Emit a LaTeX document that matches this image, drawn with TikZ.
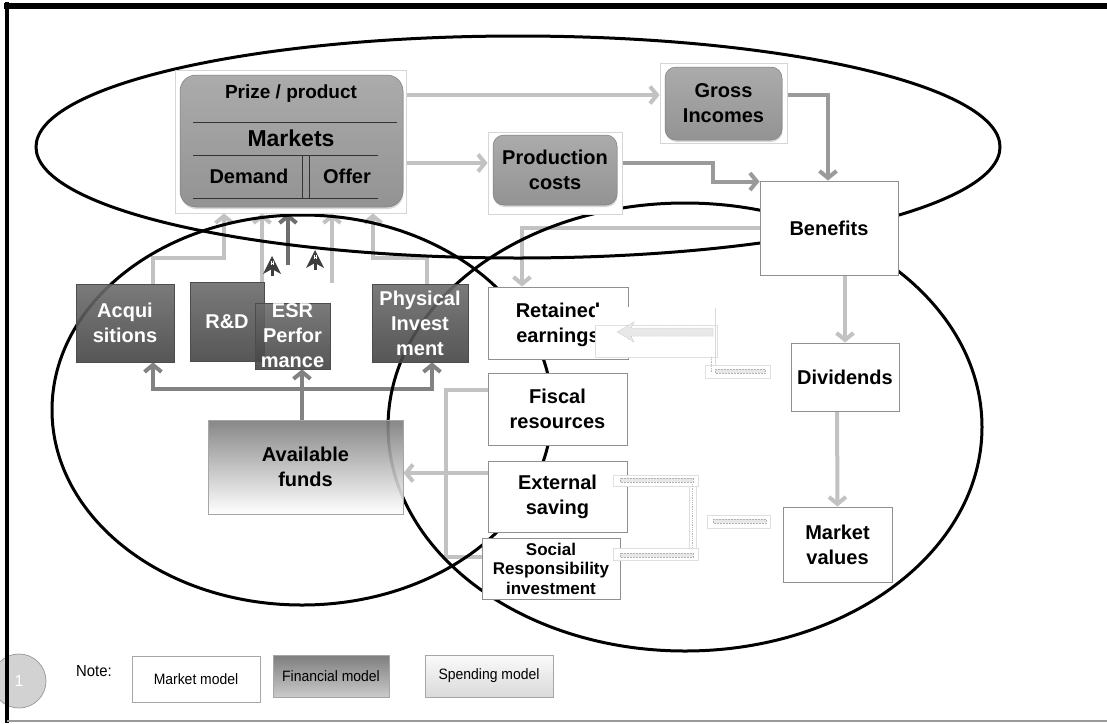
\documentclass[tikz,border=0pt]{standalone}
\usepackage{fontspec}
\setmainfont{Liberation Sans}
\newfontfamily\notefont[FakeStretch=0.93]{Liberation Sans}
\usetikzlibrary{arrows.meta,shadows}

\definecolor{mktop}{HTML}{ABABAB}
\definecolor{mkbot}{HTML}{939393}
\definecolor{fintop}{HTML}{6C6C6C}
\definecolor{finbot}{HTML}{444444}
\definecolor{fundtop}{HTML}{7A7A7A}
\definecolor{legfintop}{HTML}{7E7E7E}
\definecolor{legfinbot}{HTML}{CACACA}
\definecolor{legsptop}{HTML}{FAFAFA}
\definecolor{legspbot}{HTML}{DADADA}
\definecolor{arrlight}{HTML}{C2C2C2}
\definecolor{arrmid}{HTML}{9A9A9A}
\definecolor{arrfin}{HTML}{828282}
\definecolor{arrdark}{HTML}{6E6E6E}
\definecolor{arrstray}{HTML}{3E3E3E}
\definecolor{edge}{HTML}{8F8F8F}
\definecolor{framegray}{HTML}{D6D6D6}

\pgfdeclarelayer{flows}
\pgfdeclarelayer{rings}
\pgfsetlayers{flows,rings,main}

\tikzset{
  headmark/.pic={
    \fill[arrstray] (0,-10) -- (9,8) -- (0,3) -- (-9,8) -- cycle;
    \draw[arrstray, line width=3pt] (0,-2) -- (0,10);
    \draw[white, line width=0.6pt] (-1.2,-5) -- (-1.2,-1) (1.2,-5) -- (1.2,-1) (-1.2,-3) -- (1.2,-3);
  }
}

\begin{document}
\begin{tikzpicture}[x=1pt,y=-1pt,
  txt/.style={font=\fontsize{20}{25}\selectfont\bfseries, align=center, inner sep=0pt},
  plainbox/.style={txt, draw=edge, fill=white, line width=0.9pt},
  finbox/.style={txt, text=white, draw=black!70, line width=0.6pt,
    top color=fintop, bottom color=finbot, fill opacity=0.9, text opacity=1},
  fundbox/.style={txt, draw=gray!70, line width=0.8pt,
    top color=fundtop, bottom color=white, fill opacity=0.9, text opacity=1},
  gbox/.style={txt, rounded corners=11pt, top color=mktop, bottom color=mkbot,
    draw=mkbot!85!black, line width=0.5pt,
    drop shadow={shadow xshift=0.5pt, shadow yshift=-2pt, opacity=0.3}},
  picframe/.style={draw=framegray, fill=white, line width=0.8pt, inner sep=0pt},
  rule/.style={draw=black!80, line width=0.9pt},
  ring/.style={draw=black, line width=3pt},
  tip/.style={-{Straight Barb[length=7pt,width=17pt]}},
  lightarr/.style={draw=arrlight, line width=4pt, tip},
  lightline/.style={draw=arrlight, line width=3.5pt},
  midarr/.style={draw=arrmid, line width=4pt, tip},
  finarr/.style={draw=arrfin, line width=4pt, tip},
  darkarr/.style={draw=arrdark, line width=4pt, tip},
  legbox/.style={inner sep=0pt, draw=gray!70, line width=0.8pt,
    font=\notefont\fontsize{15}{18}\selectfont},
  numdisc/.style={circle, draw=gray!75, fill=gray!35, line width=0.8pt,
    minimum size=54pt, inner sep=0pt, text=white, font=\fontsize{16}{16}\selectfont},
  ghost/.style={fill=white, draw=gray!25, line width=0.6pt},
  hatch/.style={fill=gray!18, draw=gray!60, densely dotted, line width=0.5pt}
]
\useasboundingbox (0,0) rectangle (1107,723);

% ---------- legend disc (sits under the page border) ----------
\node[numdisc] (num) at (19,681) {1};

% ---------- page border ----------
\draw[line width=4pt] (7,2) -- (7,723);
\draw[line width=6pt] (4,6) -- (1107,6);
\draw[gray!80, line width=1.5pt] (7,721) -- (1107,721);

% ---------- the three model rings ----------
\begin{pgfonlayer}{rings}
  \draw[ring] (518,147) ellipse [x radius=482pt, y radius=111pt];
  \draw[ring] (302,410) ellipse [x radius=250pt, y radius=195pt];
  \draw[ring] (685,427) ellipse [x radius=297pt, y radius=224pt];
\end{pgfonlayer}

% ---------- market block ----------
\node[picframe, minimum width=231pt, minimum height=143pt] (mframe) at (290.5,141.5) {};
\node[gbox, rounded corners=16pt, minimum width=223pt, minimum height=132pt] (mk) at (291.5,141) {};
\node[txt, font=\fontsize{19}{19}\selectfont\bfseries] (prize) at (291,94) {Prize / product};
\node[txt, font=\fontsize{23}{23}\selectfont\bfseries] (mkts) at (291,138) {Markets};
\node[txt] (dem) at (249,176) {Demand};
\node[txt] (off) at (347,176) {Offer};
\draw[rule] (193,122) -- (397,122);
\draw[rule] (193,155) -- (378,155);
\draw[rule] (193,198) -- (378,198);
\draw[rule] (302,155) -- (302,198);
\draw[rule] (309,155) -- (309,198);

\node[picframe, minimum width=127pt, minimum height=80pt] (gframe) at (723.5,103) {};
\node[gbox, minimum width=117pt, minimum height=73pt] (gross) at (723.5,103.5) {Gross\\Incomes};
\node[picframe, minimum width=134pt, minimum height=82pt] (pframe) at (555,173) {};
\node[gbox, minimum width=124pt, minimum height=70pt] (prod) at (555,170) {Production\\costs};

% ---------- spending / result boxes ----------
\node[plainbox, minimum width=138pt, minimum height=94pt] (ben) at (829,228) {Benefits};
\node[plainbox, minimum width=108pt, minimum height=68pt] (div) at (845,377) {Dividends};
\node[plainbox, minimum width=109pt, minimum height=75pt] (mv) at (837.5,544.5) {Market\\values};
\node[plainbox, minimum width=140pt, minimum height=72pt, text depth=0pt] (ret) at (558,323) {Retained\\earnings};
\node[plainbox, minimum width=139pt, minimum height=72pt] (fis) at (557.5,409) {Fiscal\\resources};
\node[plainbox, minimum width=139pt, minimum height=71pt] (ext) at (557.5,496.5) {External\\saving};
\node[plainbox, minimum width=138pt, minimum height=61pt,
  font=\fontsize{17}{19.5}\selectfont\bfseries] (soc) at (551,568.5) {Social\\Responsibility\\investment};

% ---------- financial boxes ----------
\node[finbox, minimum width=98pt, minimum height=78pt] (acq) at (125,323) {Acqui\\sitions};
\node[finbox, minimum width=74pt, minimum height=79pt] (rd) at (227,321.5) {R\&D};
\node[finbox, minimum width=75pt, minimum height=66pt] (esr) at (292.5,336) {ESR\\Perfor\\mance};
\node[finbox, minimum width=96pt, minimum height=78pt] (phys) at (420,323) {Physical\\Invest\\ment};
\node[fundbox, minimum width=195pt, minimum height=94pt] (avail) at (305.5,467) {Available\\funds};

% ---------- flows ----------
\begin{pgfonlayer}{flows}
  % market to incomes and costs
  \draw[lightarr] ([yshift=8pt]gframe.west -| mframe.east) -- ([yshift=8pt]gframe.west);
  \draw[lightarr] ([yshift=10pt]pframe.west -| mframe.east) -- ([yshift=10pt]pframe.west);
  \draw[midarr] ([yshift=8pt]gframe.east) -| ([xshift=-1pt]ben.north);
  \draw[midarr] ([yshift=10pt]pframe.east) -- ++(91,0) |- ([yshift=-1pt]ben.north west);
  % benefits distribution
  \draw[lightarr] (ben.west) -| ([xshift=-36pt]ret.north);
  \draw[lightarr] ([xshift=16pt]ben.south) -- (div.north);
  \draw[lightarr] ([xshift=-8pt]div.south) -- (mv.north);
  % spending sources to available funds
  \coordinate (bus) at (446,473);
  \draw[lightline] ([yshift=19pt]fis.west) -| (bus) |- ([yshift=11.5pt]soc.west);
  \draw[lightarr] ([yshift=23.5pt]ext.west) -- ([yshift=-6pt]avail.east);
  % financial decisions feeding the market
  \draw[lightarr] ([xshift=28pt]acq.north) -- ++(0,-26) -| ([xshift=-66.5pt]mframe.south);
  \draw[lightarr] ([xshift=35pt]rd.north) -- ([xshift=35pt]rd.north |- mframe.south);
  \coordinate (esrflow) at (288,265);
  \draw[darkarr] (esrflow) -- (esrflow |- mframe.south);
  \coordinate (rightflow) at (332,283);
  \draw[lightarr] (rightflow) -- (rightflow |- mframe.south);
  \draw[lightarr] ([xshift=7pt]phys.north) -- ++(0,-26) -| ([xshift=82.5pt]mframe.south);
  % available funds to financial boxes
  \coordinate (fundbus) at (302,389);
  \draw[finarr] ([xshift=-3.5pt]avail.north) -- ([xshift=9.5pt]esr.south);
  \draw[finarr] (fundbus) -| ([xshift=28pt]acq.south);
  \draw[finarr] (fundbus) -| ([xshift=12pt]phys.south);
\end{pgfonlayer}

\pic at (272,266) {headmark};
\pic at (315,260) {headmark};

% ---------- leftover connector fragments ----------
\fill[white] (595,307) rectangle (717,357);
\draw[gray!25, line width=0.6pt] (595,325) rectangle (717,357);
\draw[hatch] (713,328) -- (631,328) -- (634,322) -- (617,332) -- (634,342) -- (631,336) -- (713,336) -- cycle;
\draw[gray!30, line width=1pt] (715,308) -- (715,377);
\draw[ghost] (705,365) rectangle (770,378);
\draw[hatch] (715,369) rectangle (765,373);
\draw[gray!55, densely dotted, line width=0.8pt] (711,357) -- (711,372);

\draw[ghost] (613,475) rectangle (698,486);
\draw[hatch] (620,478) rectangle (693,482);
\draw[ghost] (689,486) rectangle (696,548);
\draw[gray!55, densely dotted, line width=0.8pt] (692,484) -- (692,552);
\draw[ghost] (613,548) rectangle (698,560);
\draw[hatch] (620,553) rectangle (693,557);
\draw[ghost] (707,515) rectangle (770,528);
\draw[hatch] (713,519) rectangle (766,523);

% ---------- legend ----------
\node[inner sep=0pt, font=\notefont\fontsize{16}{16}\selectfont] (note) at (94,671) {Note:};
\node[legbox, fill=white, minimum width=128pt, minimum height=46pt] (lmarket) at (196,679) {Market model};
\node[legbox, top color=legfintop, bottom color=legfinbot, minimum width=116pt, minimum height=42pt] (lfin) at (331,676) {Financial model};
\node[legbox, top color=legsptop, bottom color=legspbot, minimum width=128pt, minimum height=42pt] (lspend) at (489,676) {Spending model};
\end{tikzpicture}
\end{document}
